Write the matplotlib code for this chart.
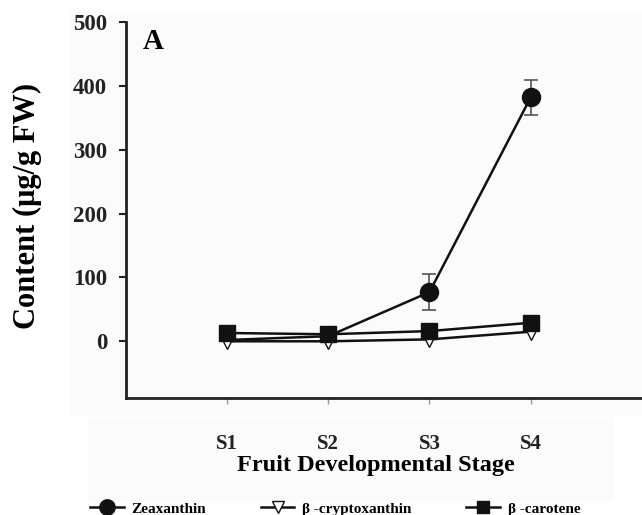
import numpy as np
import matplotlib.pyplot as plt
from matplotlib.patches import Rectangle

# carotenoid content over fruit development
stages = ['S1', 'S2', 'S3', 'S4']
zeaxanthin = [2, 8, 77, 382]
zeaxanthin_err = [0, 0, 28, 27]
cryptoxanthin = [0, 0, 3, 15]
carotene = [13, 11, 16, 29]

plt.rcParams['font.family'] = ['Liberation Serif', 'DejaVu Serif']
plt.rcParams['font.weight'] = 'bold'

fig = plt.figure(figsize=(6.42, 5.15), dpi=100)
# faint grey panels behind plot area and axis label block
fig.patches.append(Rectangle((70/642, 1 - 415/515), 572/642, 403/515,
                             transform=fig.transFigure, color='#fbfbfb', zorder=-1))
fig.patches.append(Rectangle((88/642, 1 - 500/515), 524/642, 82/515,
                             transform=fig.transFigure, color='#fbfbfb', zorder=-1))

ax = fig.add_axes([0.196, 0.227, 0.804, 0.730])
ax.set_zorder(1)
ax.set_facecolor('none')
x = np.arange(1, len(stages) + 1)

# zeaxanthin markers only where they stand clear of the other two series
h1 = ax.errorbar(x, zeaxanthin, yerr=zeaxanthin_err, color='#111111', lw=1.8,
                 marker='o', ms=13, mfc='#111111', mec='#111111', markevery=[2, 3],
                 ecolor='#555555', elinewidth=1.2, capsize=5, capthick=1.2,
                 errorevery=(2, 1), zorder=2)
h2, = ax.plot(x, cryptoxanthin, color='#111111', lw=1.8, marker='v', ms=11,
              mfc='white', mec='#111111', mew=1.0, zorder=3)
h3, = ax.plot(x, carotene, color='#111111', lw=1.8, marker='s', ms=11,
              mfc='#111111', mec='#111111', zorder=4)

ax.set_xlim(0, 5.1)
ax.set_ylim(-89, 500)
ax.set_yticks([0, 100, 200, 300, 400, 500])
ax.set_xticks(x)
ax.set_xticklabels(stages)

for s in ['top', 'right']:
    ax.spines[s].set_visible(False)
for s in ['left', 'bottom']:
    ax.spines[s].set_linewidth(2)
    ax.spines[s].set_color('#222222')

ax.tick_params(axis='y', labelsize=16.5, width=1.5, length=5, colors='#222222', pad=8.5)
ax.tick_params(axis='x', labelsize=15, width=1, length=4, pad=22,
               color='#999999', labelcolor='#222222')

ax.set_ylabel('Content (μg/g FW)', fontsize=22, fontweight='bold')
ax.yaxis.set_label_coords(-0.163, 0.51)
ax.set_xlabel('Fruit Developmental Stage', fontsize=17.5, fontweight='bold')
ax.xaxis.set_label_coords(0.485, -0.152)
ax.text(0.17, 470, 'A', fontsize=21, fontweight='bold', va='center')

fig.legend([h1.lines[0], h2, h3], ['Zeaxanthin', 'β -cryptoxanthin', 'β -carotene'],
           loc='lower center', bbox_to_anchor=(0.522, -0.028), ncol=3,
           frameon=False, fontsize=11, handlelength=2.2, columnspacing=3.6,
           handletextpad=0.5, markerscale=0.85)

fig.savefig('out.png', dpi=100)
